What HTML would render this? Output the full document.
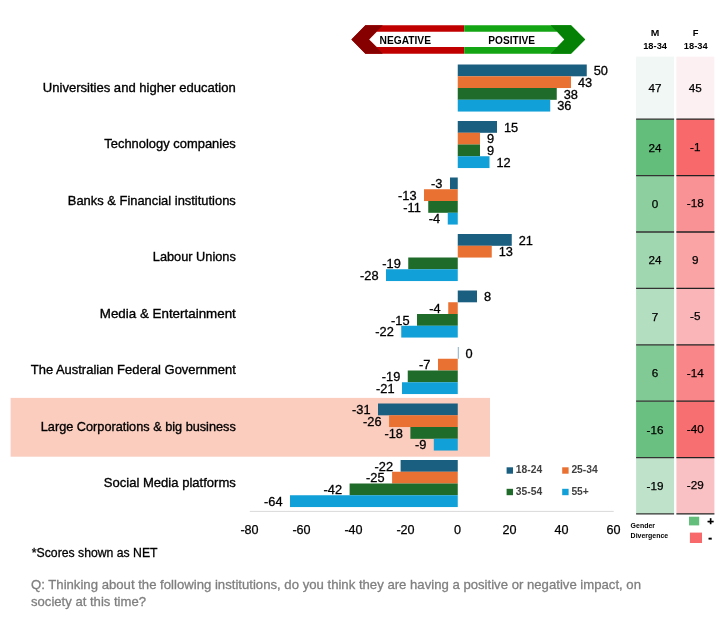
<!DOCTYPE html>
<html lang="en"><head><meta charset="utf-8"><title>Institutions impact on society</title>
<style>
html,body{margin:0;padding:0;background:#fff;}
body{width:720px;height:626px;overflow:hidden;font-family:"Liberation Sans",sans-serif;}
svg{display:block;font-family:"Liberation Sans",sans-serif;}
.cat{font-size:13.4px;fill:#000;text-anchor:end;stroke:#000;stroke-width:.35px;}
.dl{font-size:12.8px;fill:#000;stroke:#000;stroke-width:.3px;}
.ax{font-size:12.6px;fill:#000;text-anchor:middle;stroke:#000;stroke-width:.25px;}
.cell{font-size:11.7px;fill:#000;text-anchor:middle;stroke:#000;stroke-width:.25px;}
.hd{font-size:9.3px;font-weight:bold;fill:#000;text-anchor:middle;}
.lg{font-size:10.3px;font-weight:bold;fill:#404040;}
.gd{font-size:7.4px;font-weight:bold;fill:#000;}
.arr{font-size:10.7px;font-weight:bold;fill:#000;}
.q{font-size:13.5px;fill:#7F7F7F;stroke:#7F7F7F;stroke-width:.3px;}
.n{font-size:13.5px;fill:#000;stroke:#000;stroke-width:.3px;}
</style></head><body>
<svg width="720" height="626" viewBox="0 0 720 626">
<rect width="720" height="626" fill="#fff"/>
<rect x="10.6" y="397.9" width="479.4" height="58.8" fill="#FACDBF"/>
<g>
<polygon points="365.4,25.2 464.2,25.2 464.2,53.8 365.4,53.8 351.4,39.5" fill="#C00000"/>
<polygon points="464.2,25.2 571,25.2 585.2,39.5 571,53.8 464.2,53.8" fill="#14A514"/>
<polygon points="351.4,39.5 365.4,25.2 382.8,25.2 369.2,39.5 382.8,53.8 365.4,53.8" fill="#870000"/>
<polygon points="585.2,39.5 571,25.2 550.6,25.2 564.2,39.5 550.6,53.8 571,53.8" fill="#058205"/>
<polygon points="369.2,39.5 376.8,31.8 557.0,31.8 564.2,39.5 557.0,47.0 376.8,47.0" fill="#fff"/>
<text class="arr" x="379.5" y="43.7" textLength="51.5" lengthAdjust="spacingAndGlyphs">NEGATIVE</text>
<text class="arr" x="488.3" y="43.7" textLength="46.7" lengthAdjust="spacingAndGlyphs">POSITIVE</text>
</g>
<line x1="249.8" y1="511.4" x2="613.7" y2="511.4" stroke="#D9D9D9" stroke-width="1"/>
<text class="ax" x="249.5" y="534.3">-80</text>
<text class="ax" x="301.5" y="534.3">-60</text>
<text class="ax" x="353.5" y="534.3">-40</text>
<text class="ax" x="405.5" y="534.3">-20</text>
<text class="ax" x="457.5" y="534.3">0</text>
<text class="ax" x="509.5" y="534.3">20</text>
<text class="ax" x="561.5" y="534.3">40</text>
<text class="ax" x="613.5" y="534.3">60</text>
<text class="cat" x="235.8" y="91.8" textLength="193" lengthAdjust="spacingAndGlyphs">Universities and higher education</text>
<rect x="457.75" y="64.50" width="129.00" height="11.8" fill="#1A5F80"/>
<text class="dl" x="593.75" y="75.20">50</text>
<rect x="457.75" y="76.25" width="113.25" height="11.8" fill="#E97132"/>
<text class="dl" x="578.00" y="86.95">43</text>
<rect x="457.75" y="88.00" width="99.00" height="11.8" fill="#1E6B2A"/>
<text class="dl" x="563.75" y="98.70">38</text>
<rect x="457.75" y="99.75" width="92.50" height="11.8" fill="#12A0D8"/>
<text class="dl" x="557.25" y="110.45">36</text>
<text class="cat" x="235.8" y="148.3" textLength="131.5" lengthAdjust="spacingAndGlyphs">Technology companies</text>
<rect x="457.75" y="121.00" width="39.25" height="11.8" fill="#1A5F80"/>
<text class="dl" x="504.00" y="131.70">15</text>
<rect x="457.75" y="132.75" width="22.25" height="11.8" fill="#E97132"/>
<text class="dl" x="487.00" y="143.45">9</text>
<rect x="457.75" y="144.50" width="22.25" height="11.8" fill="#1E6B2A"/>
<text class="dl" x="487.00" y="155.20">9</text>
<rect x="457.75" y="156.25" width="31.75" height="11.8" fill="#12A0D8"/>
<text class="dl" x="496.50" y="166.95">12</text>
<text class="cat" x="235.8" y="204.8" textLength="168" lengthAdjust="spacingAndGlyphs">Banks &amp; Financial institutions</text>
<rect x="450.00" y="177.50" width="7.75" height="11.8" fill="#1A5F80"/>
<text class="dl" x="442.50" y="188.20" text-anchor="end">-3</text>
<rect x="424.00" y="189.25" width="33.75" height="11.8" fill="#E97132"/>
<text class="dl" x="416.50" y="199.95" text-anchor="end">-13</text>
<rect x="428.25" y="201.00" width="29.50" height="11.8" fill="#1E6B2A"/>
<text class="dl" x="420.75" y="211.70" text-anchor="end">-11</text>
<rect x="447.75" y="212.75" width="10.00" height="11.8" fill="#12A0D8"/>
<text class="dl" x="440.25" y="223.45" text-anchor="end">-4</text>
<text class="cat" x="235.8" y="261.3" textLength="83" lengthAdjust="spacingAndGlyphs">Labour Unions</text>
<rect x="457.75" y="234.00" width="54.00" height="11.8" fill="#1A5F80"/>
<text class="dl" x="518.75" y="244.70">21</text>
<rect x="457.75" y="245.75" width="34.00" height="11.8" fill="#E97132"/>
<text class="dl" x="498.75" y="256.45">13</text>
<rect x="408.25" y="257.50" width="49.50" height="11.8" fill="#1E6B2A"/>
<text class="dl" x="400.75" y="268.20" text-anchor="end">-19</text>
<rect x="386.00" y="269.25" width="71.75" height="11.8" fill="#12A0D8"/>
<text class="dl" x="378.50" y="279.95" text-anchor="end">-28</text>
<text class="cat" x="235.8" y="317.8" textLength="136" lengthAdjust="spacingAndGlyphs">Media &amp; Entertainment</text>
<rect x="457.75" y="290.50" width="19.25" height="11.8" fill="#1A5F80"/>
<text class="dl" x="484.00" y="301.20">8</text>
<rect x="448.25" y="302.25" width="9.50" height="11.8" fill="#E97132"/>
<text class="dl" x="440.75" y="312.95" text-anchor="end">-4</text>
<rect x="417.00" y="314.00" width="40.75" height="11.8" fill="#1E6B2A"/>
<text class="dl" x="409.50" y="324.70" text-anchor="end">-15</text>
<rect x="401.25" y="325.75" width="56.50" height="11.8" fill="#12A0D8"/>
<text class="dl" x="393.75" y="336.45" text-anchor="end">-22</text>
<text class="cat" x="235.8" y="374.3" textLength="205" lengthAdjust="spacingAndGlyphs">The Australian Federal Government</text>
<rect x="457.75" y="347.00" width="1.2" height="11.75" fill="#9BBDD2"/>
<text class="dl" x="465.55" y="357.70">0</text>
<rect x="438.00" y="358.75" width="19.75" height="11.8" fill="#E97132"/>
<text class="dl" x="430.50" y="369.45" text-anchor="end">-7</text>
<rect x="407.75" y="370.50" width="50.00" height="11.8" fill="#1E6B2A"/>
<text class="dl" x="400.25" y="381.20" text-anchor="end">-19</text>
<rect x="402.00" y="382.25" width="55.75" height="11.8" fill="#12A0D8"/>
<text class="dl" x="394.50" y="392.95" text-anchor="end">-21</text>
<text class="cat" x="235.8" y="430.8" textLength="195" lengthAdjust="spacingAndGlyphs">Large Corporations &amp; big business</text>
<rect x="378.00" y="403.50" width="79.75" height="11.8" fill="#1A5F80"/>
<text class="dl" x="370.50" y="414.20" text-anchor="end">-31</text>
<rect x="389.10" y="415.25" width="68.65" height="11.8" fill="#E97132"/>
<text class="dl" x="381.60" y="425.95" text-anchor="end">-26</text>
<rect x="410.40" y="427.00" width="47.35" height="11.8" fill="#1E6B2A"/>
<text class="dl" x="402.90" y="437.70" text-anchor="end">-18</text>
<rect x="433.80" y="438.75" width="23.95" height="11.8" fill="#12A0D8"/>
<text class="dl" x="426.30" y="449.45" text-anchor="end">-9</text>
<text class="cat" x="235.8" y="487.3" textLength="132" lengthAdjust="spacingAndGlyphs">Social Media platforms</text>
<rect x="400.60" y="460.00" width="57.15" height="11.8" fill="#1A5F80"/>
<text class="dl" x="393.10" y="470.70" text-anchor="end">-22</text>
<rect x="392.10" y="471.75" width="65.65" height="11.8" fill="#E97132"/>
<text class="dl" x="384.60" y="482.45" text-anchor="end">-25</text>
<rect x="349.60" y="483.50" width="108.15" height="11.8" fill="#1E6B2A"/>
<text class="dl" x="342.10" y="494.20" text-anchor="end">-42</text>
<rect x="290.00" y="495.25" width="167.75" height="11.8" fill="#12A0D8"/>
<text class="dl" x="282.50" y="505.95" text-anchor="end">-64</text>
<rect x="506.6" y="467.3" width="6.4" height="6.4" fill="#1A5F80"/>
<text class="lg" x="515.8" y="473.2">18-24</text>
<rect x="562.2" y="467.3" width="6.4" height="6.4" fill="#E97132"/>
<text class="lg" x="571.4" y="473.2">25-34</text>
<rect x="506.6" y="488.8" width="6.4" height="6.4" fill="#1E6B2A"/>
<text class="lg" x="515.8" y="494.7">35-54</text>
<rect x="562.2" y="488.8" width="6.4" height="6.4" fill="#12A0D8"/>
<text class="lg" x="571.4" y="494.7">55+</text>
<rect x="636.1" y="56.6" width="38" height="62.6" fill="#F0F7F4"/>
<rect x="676.4" y="56.6" width="38" height="62.6" fill="#FCF0F3"/>
<text class="cell" x="655" y="92.1">47</text>
<text class="cell" x="695.3" y="91.5">45</text>
<rect x="636.1" y="119.2" width="38" height="56.4" fill="#63BE7B"/>
<rect x="676.4" y="119.2" width="38" height="56.4" fill="#F8696B"/>
<text class="cell" x="655" y="151.6">24</text>
<text class="cell" x="695.3" y="151.0">-1</text>
<rect x="636.1" y="175.6" width="38" height="56.4" fill="#8ECFA0"/>
<rect x="676.4" y="175.6" width="38" height="56.4" fill="#F99294"/>
<text class="cell" x="655" y="208.0">0</text>
<text class="cell" x="695.3" y="207.4">-18</text>
<rect x="636.1" y="232.0" width="38" height="56.4" fill="#A0D7B0"/>
<rect x="676.4" y="232.0" width="38" height="56.4" fill="#FAA4A6"/>
<text class="cell" x="655" y="264.4">24</text>
<text class="cell" x="695.3" y="263.8">9</text>
<rect x="636.1" y="288.4" width="38" height="56.4" fill="#B3DEC0"/>
<rect x="676.4" y="288.4" width="38" height="56.4" fill="#FAB5B8"/>
<text class="cell" x="655" y="320.8">7</text>
<text class="cell" x="695.3" y="320.2">-5</text>
<rect x="636.1" y="344.8" width="38" height="56.4" fill="#82CA95"/>
<rect x="676.4" y="344.8" width="38" height="56.4" fill="#F98689"/>
<text class="cell" x="655" y="377.2">6</text>
<text class="cell" x="695.3" y="376.6">-14</text>
<rect x="636.1" y="401.2" width="38" height="56.4" fill="#69C080"/>
<rect x="676.4" y="401.2" width="38" height="56.4" fill="#F86F71"/>
<text class="cell" x="655" y="433.6">-16</text>
<text class="cell" x="695.3" y="433.0">-40</text>
<rect x="636.1" y="457.6" width="38" height="56.3" fill="#BFE3CA"/>
<rect x="676.4" y="457.6" width="38" height="56.3" fill="#FAC1C4"/>
<text class="cell" x="655" y="489.9">-19</text>
<text class="cell" x="695.3" y="489.4">-29</text>
<line x1="636.1" y1="119.2" x2="674.1" y2="119.2" stroke="#333" stroke-width="1.3"/>
<line x1="676.4" y1="119.2" x2="714.4" y2="119.2" stroke="#222" stroke-width="1.3"/>
<line x1="636.1" y1="175.6" x2="674.1" y2="175.6" stroke="#333" stroke-width="1.3"/>
<line x1="676.4" y1="175.6" x2="714.4" y2="175.6" stroke="#222" stroke-width="1.3"/>
<line x1="636.1" y1="232.0" x2="674.1" y2="232.0" stroke="#333" stroke-width="1.3"/>
<line x1="676.4" y1="232.0" x2="714.4" y2="232.0" stroke="#222" stroke-width="1.3"/>
<line x1="636.1" y1="288.4" x2="674.1" y2="288.4" stroke="#333" stroke-width="1.3"/>
<line x1="676.4" y1="288.4" x2="714.4" y2="288.4" stroke="#222" stroke-width="1.3"/>
<line x1="636.1" y1="344.8" x2="674.1" y2="344.8" stroke="#333" stroke-width="1.3"/>
<line x1="676.4" y1="344.8" x2="714.4" y2="344.8" stroke="#222" stroke-width="1.3"/>
<line x1="636.1" y1="401.2" x2="674.1" y2="401.2" stroke="#333" stroke-width="1.3"/>
<line x1="676.4" y1="401.2" x2="714.4" y2="401.2" stroke="#222" stroke-width="1.3"/>
<line x1="636.1" y1="457.6" x2="674.1" y2="457.6" stroke="#333" stroke-width="1.3"/>
<line x1="676.4" y1="457.6" x2="714.4" y2="457.6" stroke="#222" stroke-width="1.3"/>
<line x1="636.1" y1="513.9" x2="674.1" y2="513.9" stroke="#333" stroke-width="1.3"/>
<line x1="676.4" y1="513.9" x2="714.4" y2="513.9" stroke="#222" stroke-width="1.3"/>
<text class="hd" x="655.1" y="36.1" textLength="8.6" lengthAdjust="spacingAndGlyphs">M</text><text class="hd" x="655.1" y="49.3">18-34</text>
<text class="hd" x="695.7" y="35.9">F</text><text class="hd" x="695.7" y="49.0">18-34</text>
<text class="gd" x="630.6" y="528.4" textLength="24.4" lengthAdjust="spacingAndGlyphs">Gender</text><text class="gd" x="630.6" y="537.7" textLength="37.6" lengthAdjust="spacingAndGlyphs">Divergence</text>
<rect x="689" y="516.7" width="10.2" height="8.7" fill="#63BE7B"/><rect x="689.9" y="532.6" width="12.1" height="10.4" fill="#F8696B"/>
<text x="710.6" y="524.8" text-anchor="middle" font-size="11.5" stroke="#000" stroke-width=".3" font-weight="bold">+</text>
<text x="710.2" y="540.6" text-anchor="middle" font-size="11.5" stroke="#000" stroke-width=".3" font-weight="bold">-</text>
<text class="n" x="31.8" y="557.2" textLength="125.8" lengthAdjust="spacingAndGlyphs">*Scores shown as NET</text>
<text class="q" x="31" y="588.5" textLength="610" lengthAdjust="spacingAndGlyphs">Q: Thinking about the following institutions, do you think they are having a positive or negative impact, on</text>
<text class="q" x="31" y="606.3" textLength="115" lengthAdjust="spacingAndGlyphs">society at this time?</text>
</svg></body></html>
